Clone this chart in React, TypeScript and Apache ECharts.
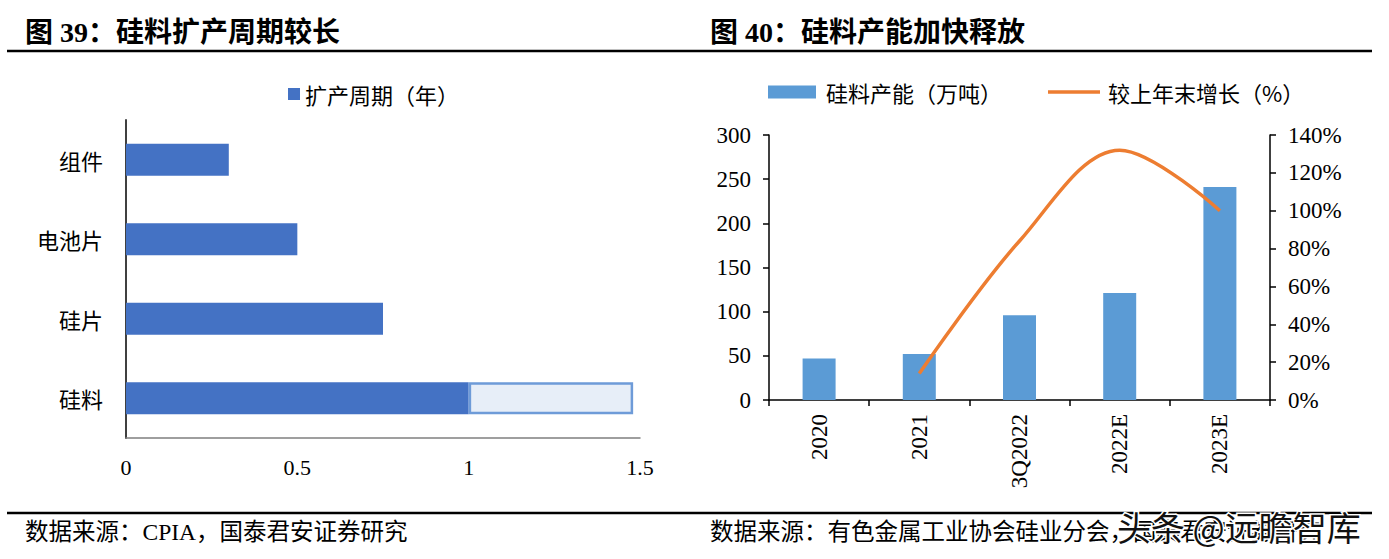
import React, { useEffect, useRef } from 'react';
import * as echarts from 'echarts';

// ---- Figure 39 data ----
const cycleCategories = ['硅料', '硅片', '电池片', '组件'];
const cycleYears = [1, 0.75, 0.5, 0.3];
const cycleUpper = [0.48, null, null, null];

// ---- Figure 40 data ----
const capCategories = ['2020', '2021', '3Q2022', '2022E', '2023E'];
const capValues = [47, 52, 96, 121, 241];
const capGrowth = [null, 0.14, 0.84, 1.32, 1.0];

const title39 = '图 39：硅料扩产周期较长';
const title40 = '图 40：硅料产能加快释放';
const source39 = '数据来源：CPIA，国泰君安证券研究';
const source40 = '数据来源：有色金属工业协会硅业分会，国泰君安证券研究';
const watermark = '头条 @远瞻智库';

const SERIF = "'Liberation Serif', 'Noto Sans CJK SC', serif";
const CJK = "'Noto Sans CJK SC', sans-serif";

export default function App() {
  const ref = useRef<HTMLDivElement>(null);
  useEffect(() => {
    if (!ref.current) return;
    const chart = echarts.init(ref.current, null, { renderer: 'svg' });
    const numLabel = { fontFamily: SERIF, fontSize: 22, color: '#000' };
    chart.setOption({
      animation: false,
      backgroundColor: '#fff',
      legend: [
        {
          data: ['扩产周期（年）'], left: 283, top: 78, icon: 'rect', itemWidth: 12, itemHeight: 12,
          textStyle: { fontFamily: CJK, fontSize: 22, color: '#000' },
        },
        {
          data: ['硅料产能（万吨）'], left: 763, top: 76, icon: 'rect', itemWidth: 48, itemHeight: 13,
          textStyle: { fontFamily: CJK, fontSize: 22, color: '#000', padding: [0, 0, 0, 5] },
        },
        {
          data: ['较上年末增长（%）'], left: 1043, top: 76, icon: 'rect', itemWidth: 52, itemHeight: 3.5,
          textStyle: { fontFamily: CJK, fontSize: 22, color: '#000', padding: [0, 0, 0, 3] },
        },
      ],
      grid: [
        { left: 126, top: 120, width: 514, height: 318 },
        { left: 769, top: 135, width: 501, height: 265 },
      ],
      xAxis: [
        {
          gridIndex: 0, type: 'value', min: 0, max: 1.5, interval: 0.5,
          axisLine: { show: true, lineStyle: { color: '#7f7f7f', width: 1.5 } },
          axisTick: { show: false }, splitLine: { show: false },
          axisLabel: { ...numLabel, margin: 18 },
        },
        {
          gridIndex: 1, type: 'category', data: capCategories,
          axisLine: { lineStyle: { color: '#000', width: 1.5 } },
          axisTick: { show: true, length: 6, lineStyle: { color: '#000', width: 1.5 } },
          axisLabel: { ...numLabel, fontSize: 23, rotate: 90, margin: 14 },
        },
      ],
      yAxis: [
        {
          gridIndex: 0, type: 'category', data: cycleCategories,
          axisLine: { show: true, lineStyle: { color: '#404040', width: 2 } },
          axisTick: { show: false },
          axisLabel: { fontFamily: CJK, fontSize: 22, color: '#000', margin: 23 },
        },
        {
          gridIndex: 1, type: 'value', min: 0, max: 300, interval: 50,
          axisLine: { show: true, lineStyle: { color: '#000', width: 1.5 } },
          axisTick: { show: true, length: 6, lineStyle: { color: '#000', width: 1.5 } },
          splitLine: { show: false },
          axisLabel: { ...numLabel, fontSize: 23, margin: 18 },
        },
        {
          gridIndex: 1, type: 'value', position: 'right', min: 0, max: 1.4, interval: 0.2,
          axisLine: { show: true, lineStyle: { color: '#000', width: 1.5 } },
          axisTick: { show: true, length: 6, lineStyle: { color: '#000', width: 1.5 } },
          splitLine: { show: false },
          axisLabel: { ...numLabel, fontSize: 23, margin: 18, formatter: (v: number) => Math.round(v * 100) + '%' },
        },
      ],
      series: [
        {
          type: 'bar', name: '扩产周期（年）', xAxisIndex: 0, yAxisIndex: 0, stack: 'cycle',
          data: cycleYears, barWidth: 32, itemStyle: { color: '#4472C4' },
        },
        {
          type: 'bar', name: '扩产周期上限', xAxisIndex: 0, yAxisIndex: 0, stack: 'cycle',
          data: cycleUpper, barWidth: 32,
          itemStyle: { color: '#E7EEF8', borderColor: '#6E9BD8', borderWidth: 2.5 },
        },
        {
          type: 'bar', name: '硅料产能（万吨）', xAxisIndex: 1, yAxisIndex: 1,
          data: capValues, barWidth: 33, itemStyle: { color: '#5B9BD5' },
        },
        {
          type: 'line', name: '较上年末增长（%）', xAxisIndex: 1, yAxisIndex: 2,
          data: capGrowth, smooth: 0.35, symbol: 'none',
          lineStyle: { color: '#ED7D31', width: 3.5 }, itemStyle: { color: '#ED7D31' },
        },
      ],
      graphic: [
        { type: 'text', x: 25, y: 32, style: { text: title39, fontFamily: SERIF, fontSize: 28, fontWeight: 'bold', fill: '#000', verticalAlign: 'middle' } },
        { type: 'text', x: 710, y: 32, style: { text: title40, fontFamily: SERIF, fontSize: 28, fontWeight: 'bold', fill: '#000', verticalAlign: 'middle' } },
        { type: 'line', shape: { x1: 7, y1: 51, x2: 700, y2: 51 }, style: { stroke: '#000', lineWidth: 2.5 } },
        { type: 'line', shape: { x1: 700, y1: 51, x2: 1372, y2: 51 }, style: { stroke: '#000', lineWidth: 2.5 } },
        { type: 'line', shape: { x1: 7, y1: 513, x2: 700, y2: 513 }, style: { stroke: '#000', lineWidth: 2.5 } },
        { type: 'line', shape: { x1: 700, y1: 513, x2: 1372, y2: 513 }, style: { stroke: '#000', lineWidth: 2.5 } },
        { type: 'text', x: 25, y: 532, style: { text: source39, fontFamily: SERIF, fontSize: 23.5, fill: '#000', verticalAlign: 'middle' } },
        { type: 'text', x: 710, y: 532, style: { text: source40, fontFamily: SERIF, fontSize: 23.5, fill: '#000', verticalAlign: 'middle' } },
        {
          type: 'text', x: 1117, y: 526, z: 100,
          style: { text: watermark, fontFamily: CJK, fontSize: 34, fill: '#111', stroke: '#fff', lineWidth: 3, verticalAlign: 'middle' },
        },
      ],
    });
    return () => chart.dispose();
  }, []);
  return <div ref={ref} style={{ position: 'fixed', left: 0, top: 0, width: 1389, height: 559, background: '#fff' }} />;
}
